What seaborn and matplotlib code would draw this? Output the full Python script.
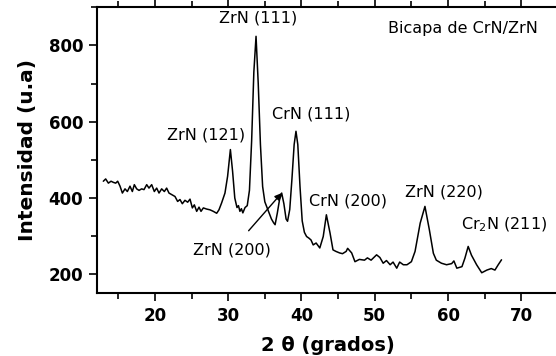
import numpy as np
import pandas as pd
import matplotlib
matplotlib.use("Agg")
import matplotlib.pyplot as plt
import seaborn as sns
from matplotlib.ticker import MultipleLocator

# XRD pattern
two_theta = [12.96, 13.28, 13.65, 14.01, 14.33, 14.65, 14.92, 15.24, 15.56, 15.92,
             16.24, 16.6, 16.92, 17.19, 17.51, 17.83, 18.19, 18.51, 18.88, 19.19,
             19.56, 19.92, 20.24, 20.56, 20.92, 21.29, 21.6, 21.92, 22.29, 22.74,
             23.1, 23.42, 23.74, 24.1, 24.47, 24.79, 25.11, 25.38, 25.7, 26.02,
             26.29, 26.61, 27.06, 27.52, 27.97, 28.43, 28.74, 29.1, 29.56, 29.92,
             30.3, 30.6, 30.9, 31.2, 31.4, 31.6, 31.8, 32.0, 32.3, 32.6,
             32.9, 33.2, 33.5, 33.8, 34.1, 34.4, 34.7, 35.0, 35.3, 35.6,
             35.9, 36.2, 36.4, 36.7, 37.0, 37.3, 37.6, 37.9, 38.1, 38.4,
             38.7, 39.0, 39.25, 39.5, 39.8, 40.1, 40.4, 40.7, 41.0, 41.3,
             41.6, 42.0, 42.5, 42.97, 43.4, 43.9, 44.3, 44.7, 45.2, 45.6,
             46.1, 46.3, 46.85, 47.3, 47.9, 48.6, 49.0, 49.5, 50.25, 50.7,
             51.15, 51.6, 52.1, 52.5, 53.0, 53.4, 53.9, 54.4, 55.0, 55.5,
             56.2, 56.85, 57.45, 58.0, 58.4, 59.1, 59.8, 60.5, 60.8, 61.2,
             61.9, 62.3, 62.75, 63.2, 63.9, 64.6, 65.3, 65.9, 66.4, 66.85,
             67.3]
intensity = [444, 450, 439, 444, 441, 439, 444, 431, 413, 424,
             417, 431, 417, 435, 424, 420, 424, 422, 435, 426,
             435, 417, 426, 413, 424, 417, 426, 413, 409, 404,
             391, 396, 385, 394, 389, 397, 374, 382, 365, 376,
             365, 374, 371, 369, 365, 360, 369, 387, 413, 457,
             527, 470, 400, 375, 380, 365, 372, 361, 375, 380,
             420, 550, 730, 824, 700, 540, 430, 390, 375, 360,
             345, 335, 330, 360, 395, 413, 385, 345, 339, 370,
             450, 540, 575, 540, 430, 340, 310, 299, 295, 290,
             277, 282, 269, 299, 356, 308, 264, 260, 256, 254,
             260, 268, 256, 233, 239, 237, 243, 237, 251, 244,
             229, 236, 225, 232, 216, 232, 225, 225, 233, 260,
             334, 378, 317, 255, 237, 229, 225, 228, 235, 216,
             220, 242, 273, 250, 225, 204, 211, 215, 211, 225,
             238]

peak_labels = ["ZrN (111)", "ZrN (121)", "CrN (111)", "CrN (200)",
               "ZrN (220)", "Cr$_2$N (211)"]
label_x = [34.1, 27.0, 41.3, 46.35, 59.4, 67.7]
label_y = [872, 564, 619, 393, 415, 330]

df = pd.DataFrame({"two_theta": two_theta, "intensity": intensity})

sns.set_theme(style="ticks")
plt.rcParams["font.family"] = ["DejaVu Sans"]
plt.rcParams["mathtext.fontset"] = "dejavusans"
plt.rcParams["text.color"] = "black"
plt.rcParams["axes.labelcolor"] = "black"

fig = plt.figure(figsize=(5.56, 3.56), dpi=100)
ax = fig.add_axes([0.1745, 0.176, 0.829, 0.8034])

sns.lineplot(data=df, x="two_theta", y="intensity", ax=ax, color="black",
             linewidth=1.1, estimator=None, sort=False)

ax.set_xlim(12.1, 75)
ax.set_ylim(150, 900)
ax.xaxis.set_major_locator(MultipleLocator(10))
ax.xaxis.set_minor_locator(MultipleLocator(5))
ax.yaxis.set_major_locator(MultipleLocator(200))
ax.yaxis.set_minor_locator(MultipleLocator(100))
ax.tick_params(which="major", length=6, width=1.2, labelsize=12, colors="black", pad=4)
ax.tick_params(which="minor", length=4, width=1.2, colors="black")
ax.tick_params(which="both", top=True, labeltop=False)
for lab in ax.get_xticklabels() + ax.get_yticklabels():
    lab.set_fontweight("bold")
for s in ["left", "bottom", "top"]:
    ax.spines[s].set_linewidth(1.5)
    ax.spines[s].set_color("black")
ax.spines["right"].set_visible(False)

ax.set_xlabel("2 θ (grados)", fontsize=14, fontweight="bold", labelpad=8)
ax.set_ylabel("Intensidad (u.a)", fontsize=14.5, fontweight="bold", labelpad=8)

for t, x, y in zip(peak_labels, label_x, label_y):
    ax.text(x, y, t, fontsize=11.5, ha="center", va="center")

ax.annotate("ZrN (200)", xy=(37.3, 413), xytext=(30.5, 264), fontsize=11.5,
            ha="center", va="center",
            arrowprops=dict(arrowstyle="-|>", color="black", lw=1,
                            shrinkA=8, shrinkB=0, mutation_scale=10))
ax.text(62.0, 845, "Bicapa de CrN/ZrN", fontsize=11.5, ha="center", va="center")

fig.savefig("out.png", dpi=100)
